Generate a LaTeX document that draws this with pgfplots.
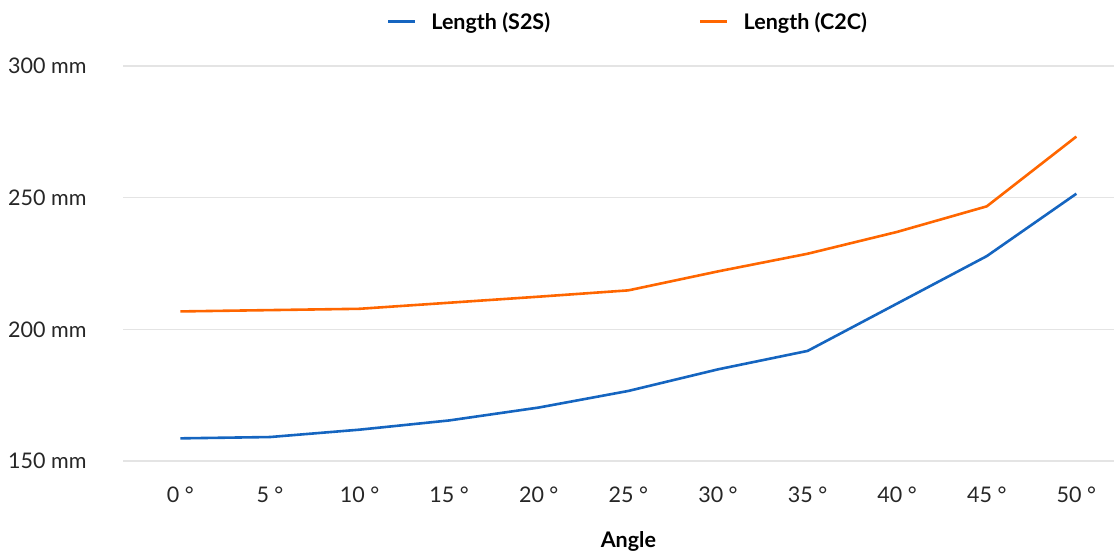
\documentclass[border=0pt]{standalone}
\usepackage{pgfplots}
\pgfplotsset{compat=1.18}
\usepackage{fontspec}
\setmainfont{Lato}
\definecolor{sblue}{HTML}{1565C0}
\definecolor{corange}{HTML}{FF6600}
\definecolor{gridgray}{HTML}{E4E4E4}
\begin{document}
\begin{tikzpicture}
\begin{axis}[
  name=ax,
  scale only axis,
  width=991pt, height=395pt,
  xmin=-3.2, xmax=52.1,
  ymin=150, ymax=300,
  axis line style={draw=none},
  clip=false,
  xtick={0,5,...,50},
  xticklabels={0 °,5 °,10 °,15 °,20 °,25 °,30 °,35 °,40 °,45 °,50 °},
  ytick={150,200,250,300},
  yticklabels={150 mm,200 mm,250 mm,300 mm},
  major tick length=0pt,
  tick style={draw=none},
  ymajorgrids,
  grid style={gridgray, line width=1.4pt},
  every tick label/.append style={font=\fontsize{21.5}{25}\selectfont, text=black!85},
  yticklabel style={anchor=west, inner sep=0pt, xshift=-115pt},
  xticklabel style={anchor=north, inner sep=0pt, yshift=-26pt},
  xlabel={Angle},
  xlabel style={at={(axis description cs:0.51,0)}, anchor=north, yshift=-67pt,
    font=\fontsize{21.5}{25}\selectfont\bfseries},
  legend columns=2,
  legend style={draw=none, fill=none, at={(axis description cs:0.516,1)},
    anchor=south, yshift=33pt, font=\fontsize{21.5}{25}\selectfont\bfseries,
    inner sep=0pt, nodes={inner xsep=15pt}},
  /tikz/every even column/.append style={column sep=134pt},
  legend image code/.code={\draw[#1, line width=2.6pt] (0pt,0pt) -- (27pt,0pt);},
]
\addplot[sblue, line width=2.6pt, line join=round, no marks] coordinates {
  (0,158.6) (5,159.1) (10,161.9) (15,165.4) (20,170.3) (25,176.6)
  (30,184.8) (35,191.8) (40,209.8) (45,227.8) (50,251.5)
};
\addlegendentry{Length (S2S)}
\addplot[corange, line width=2.6pt, line join=round, no marks] coordinates {
  (0,206.8) (5,207.3) (10,207.8) (15,210.1) (20,212.4) (25,214.8)
  (30,222.0) (35,228.7) (40,237.0) (45,246.7) (50,273.2)
};
\addlegendentry{Length (C2C)}
\end{axis}
\pgfresetboundingbox
\useasboundingbox ([xshift=-123pt,yshift=-93pt]ax.south west) rectangle ([yshift=66pt]ax.north east);
\end{tikzpicture}
\end{document}
